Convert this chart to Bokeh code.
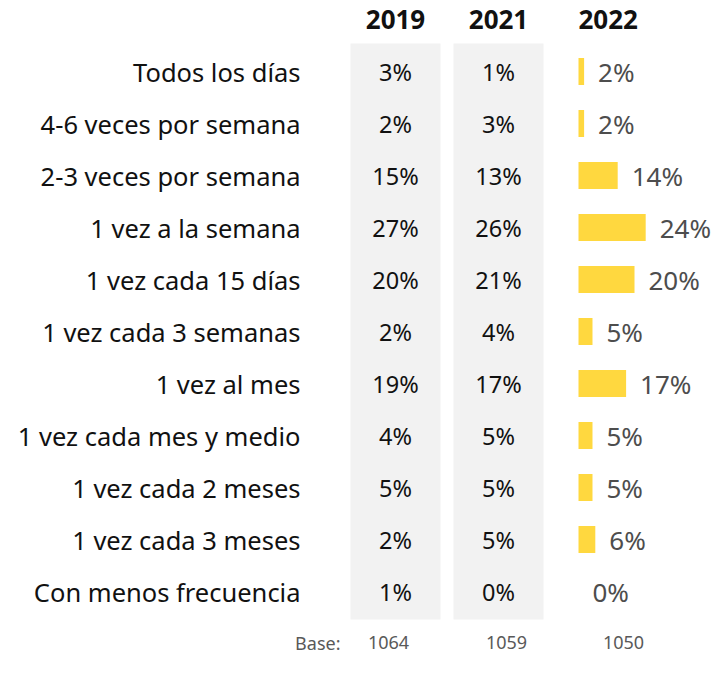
from bokeh.plotting import figure
from bokeh.models import Range1d, ColumnDataSource
from bokeh.core.properties import value
from bokeh.embed import file_html
from bokeh.resources import INLINE

# ---- data ----
categories = [
    "Todos los días",
    "4-6 veces por semana",
    "2-3 veces por semana",
    "1 vez a la semana",
    "1 vez cada 15 días",
    "1 vez cada 3 semanas",
    "1 vez al mes",
    "1 vez cada mes y medio",
    "1 vez cada 2 meses",
    "1 vez cada 3 meses",
    "Con menos frecuencia",
]
years = ["2019", "2021", "2022"]
v2019 = [3, 2, 15, 27, 20, 2, 19, 4, 5, 2, 1]
v2021 = [1, 3, 13, 26, 21, 4, 17, 5, 5, 5, 0]
v2022 = [2, 2, 14, 24, 20, 5, 17, 5, 5, 6, 0]
base_label = "Base:"
bases = [1064, 1059, 1050]

# ---- layout ----
W, H = 712, 657
OFF_X, OFF_Y = 8, 5
ROW0, ROWSTEP = 76, 52
HEADER_Y = 24
BASE_Y = 647
LABEL_RIGHT = 308
COL_CENTERS = [403, 506]
COL_HALF = 45
COL_TOP, COL_BOTTOM = 48, 624
BAR_LEFT = 586
PX_PER_PCT = 2.8
BAR_H = 27
LABEL_GAP = 14
FONT = "Noto Sans"

rows_y = [ROW0 + ROWSTEP * i for i in range(len(categories))]

p = figure(width=W, height=H, output_backend="svg", toolbar_location=None,
           x_range=Range1d(OFF_X, OFF_X + W), y_range=Range1d(OFF_Y + H, OFF_Y),
           min_border=0, outline_line_color=None, background_fill_color="white")
p.axis.visible = False
p.grid.visible = False

# gray background columns for 2019 / 2021
p.quad(left=[c - COL_HALF for c in COL_CENTERS], right=[c + COL_HALF for c in COL_CENTERS],
       top=COL_TOP, bottom=COL_BOTTOM, fill_color="#F2F2F2", line_color=None)

# category labels
p.text(x=LABEL_RIGHT, y=rows_y, text=categories, text_align="right", text_baseline="middle",
       text_font=value(FONT), text_font_size="25.5px", text_color="#111111")

# 2019 / 2021 values
for cx, vals in zip(COL_CENTERS, [v2019, v2021]):
    src = ColumnDataSource(dict(y=rows_y, t=[f"{v}%" for v in vals]))
    p.text(x=cx, y="y", text="t", source=src, text_align="center", text_baseline="middle",
           text_font=value(FONT), text_font_size="23.5px", text_color="#111111")

# 2022 bars
rights = [BAR_LEFT + v * PX_PER_PCT for v in v2022]
p.hbar(y=rows_y, left=BAR_LEFT, right=rights, height=BAR_H,
       fill_color="#FFD83F", line_color=None)
p.text(x=[r + LABEL_GAP for r in rights], y=rows_y, text=[f"{v}%" for v in v2022],
       text_align="left", text_baseline="middle",
       text_font=value(FONT), text_font_size="26px", text_color="#4D4D4D")

# headers
p.text(x=COL_CENTERS, y=HEADER_Y, text=years[:2], text_align="center", text_baseline="middle",
       text_font=value(FONT), text_font_size="26px", text_font_style="bold", text_color="#111111")
p.text(x=[BAR_LEFT], y=[HEADER_Y], text=[years[2]], text_align="left", text_baseline="middle",
       text_font=value(FONT), text_font_size="26px", text_font_style="bold", text_color="#111111")

# base row
p.text(x=[348], y=[BASE_Y], text=[base_label], text_align="right", text_baseline="middle",
       text_font=value(FONT), text_font_size="18px", text_color="#595959")
p.text(x=[396, 514, 631], y=BASE_Y, text=[str(b) for b in bases], text_align="center",
       text_baseline="middle", text_font=value(FONT), text_font_size="18px", text_color="#595959")

open("out.html", "w").write(file_html(p, INLINE))
